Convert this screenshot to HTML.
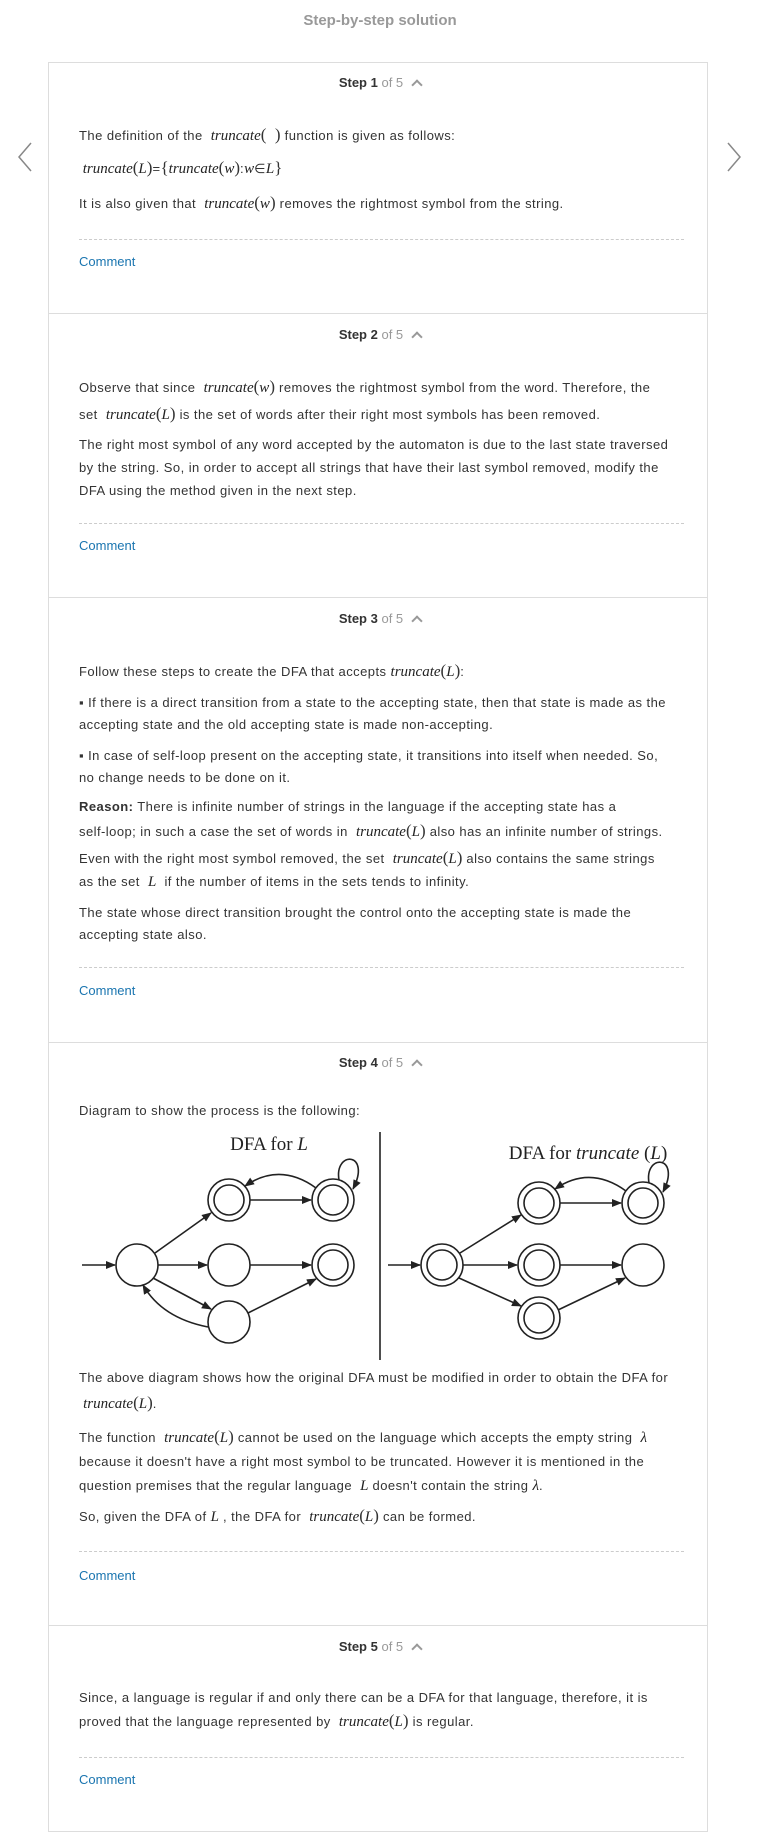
<!DOCTYPE html>
<html><head><meta charset="utf-8">
<style>
*{margin:0;padding:0;box-sizing:border-box}
body{width:760px;height:1841px;background:#fff;position:relative;font-family:"Liberation Sans",Arial,sans-serif;color:#333;font-size:13px;overflow:hidden}
.a{position:absolute;white-space:nowrap;line-height:18px;height:18px}
.t{left:79px;letter-spacing:0.45px}
.m{font-family:"Liberation Serif",serif;font-style:italic;font-size:15px;letter-spacing:0;color:#222}
.p{font-family:"Liberation Serif",serif;font-size:17px;font-style:normal;letter-spacing:0}
.h{left:0;width:760px;text-align:center;font-size:13px}
.h b{color:#333}
.h span{color:#999}
.h i{display:inline-block;width:8px;height:8px;border-left:2px solid #999;border-top:2px solid #999;transform:rotate(45deg);margin-left:10px;position:relative;top:2px}
.c{left:79px;color:#1a75b0}
.d{position:absolute;left:79px;width:605px;border-top:1px dashed #ccc}
.b{position:absolute;left:48px;width:660px;border-top:1px solid #ddd}
</style></head><body>
<div class="a" style="left:0;width:760px;text-align:center;top:12px;font-size:15px;color:#999;font-weight:bold">Step-by-step solution</div>
<div style="position:absolute;left:48px;top:62px;width:660px;height:1770px;border:1px solid #ddd"></div>
<svg style="position:absolute;left:0;top:0" width="760" height="200"><polyline points="31,143 19,157 31,171" fill="none" stroke="#888" stroke-width="1.5"/><polyline points="728,143 740,157 728,171" fill="none" stroke="#888" stroke-width="1.5"/></svg>

<div class="a h" style="top:74px"><b>Step 1</b> <span>of 5</span><i></i></div>
<div class="a t" style="top:126px">The definition of the &nbsp;<span class="m">truncate</span><span class="p">(&nbsp;&nbsp;)</span> function is given as follows:</div>
<div class="a t" style="top:159px"><span class="m">&nbsp;truncate</span><span class="p">(</span><span class="m">L</span><span class="p">)</span>=<span class="p">{</span><span class="m">truncate</span><span class="p">(</span><span class="m">w</span><span class="p">)</span>:<span class="m">w</span>∈<span class="m">L</span><span class="p">}</span></div>
<div class="a t" style="top:194px">It is also given that &nbsp;<span class="m">truncate</span><span class="p">(</span><span class="m">w</span><span class="p">)</span> removes the rightmost symbol from the string.</div>
<div class="d" style="top:239px"></div>
<div class="a c" style="top:253px">Comment</div>
<div class="b" style="top:313px"></div>

<div class="a h" style="top:326px"><b>Step 2</b> <span>of 5</span><i></i></div>
<div class="a t" style="top:378px">Observe that since &nbsp;<span class="m">truncate</span><span class="p">(</span><span class="m">w</span><span class="p">)</span> removes the rightmost symbol from the word. Therefore, the</div>
<div class="a t" style="top:405px">set &nbsp;<span class="m">truncate</span><span class="p">(</span><span class="m">L</span><span class="p">)</span> is the set of words after their right most symbols has been removed.</div>
<div class="a t" style="top:436px">The right most symbol of any word accepted by the automaton is due to the last state traversed</div>
<div class="a t" style="top:459px">by the string. So, in order to accept all strings that have their last symbol removed, modify the</div>
<div class="a t" style="top:482px">DFA using the method given in the next step.</div>
<div class="d" style="top:523px"></div>
<div class="a c" style="top:537px">Comment</div>
<div class="b" style="top:597px"></div>

<div class="a h" style="top:610px"><b>Step 3</b> <span>of 5</span><i></i></div>
<div class="a t" style="top:662px">Follow these steps to create the DFA that accepts <span class="m">truncate</span><span class="p">(</span><span class="m">L</span><span class="p">)</span>:</div>
<div class="a t" style="top:694px">▪ If there is a direct transition from a state to the accepting state, then that state is made as the</div>
<div class="a t" style="top:716px">accepting state and the old accepting state is made non-accepting.</div>
<div class="a t" style="top:747px">▪ In case of self-loop present on the accepting state, it transitions into itself when needed. So,</div>
<div class="a t" style="top:769px">no change needs to be done on it.</div>
<div class="a t" style="top:798px"><b>Reason:</b> There is infinite number of strings in the language if the accepting state has a</div>
<div class="a t" style="top:822px">self-loop; in such a case the set of words in &nbsp;<span class="m">truncate</span><span class="p">(</span><span class="m">L</span><span class="p">)</span> also has an infinite number of strings.</div>
<div class="a t" style="top:849px">Even with the right most symbol removed, the set &nbsp;<span class="m">truncate</span><span class="p">(</span><span class="m">L</span><span class="p">)</span> also contains the same strings</div>
<div class="a t" style="top:873px">as the set &nbsp;<span class="m">L</span>&nbsp; if the number of items in the sets tends to infinity.</div>
<div class="a t" style="top:904px">The state whose direct transition brought the control onto the accepting state is made the</div>
<div class="a t" style="top:926px">accepting state also.</div>
<div class="d" style="top:967px"></div>
<div class="a c" style="top:982px">Comment</div>
<div class="b" style="top:1042px"></div>

<div class="a h" style="top:1054px"><b>Step 4</b> <span>of 5</span><i></i></div>
<div class="a t" style="top:1102px">Diagram to show the process is the following:</div>
<svg style="position:absolute;left:0;top:0" width="760" height="1400" viewBox="0 0 760 1400">
<defs><marker id="ar" markerWidth="10" markerHeight="8" refX="9" refY="4" orient="auto" markerUnits="userSpaceOnUse"><path d="M0,0 L10,4 L0,8 Z" fill="#222"/></marker></defs>
<g fill="none" stroke="#222" stroke-width="1.6">
<line x1="380" y1="1132" x2="380" y2="1360"/>
<circle cx="137" cy="1265" r="21"/>
<circle cx="229" cy="1200" r="21"/><circle cx="229" cy="1200" r="15"/>
<circle cx="333" cy="1200" r="21"/><circle cx="333" cy="1200" r="15"/>
<circle cx="229" cy="1265" r="21"/>
<circle cx="333" cy="1265" r="21"/><circle cx="333" cy="1265" r="15"/>
<circle cx="229" cy="1322" r="21"/>
<line x1="82" y1="1265" x2="115" y2="1265" marker-end="url(#ar)"/>
<line x1="155" y1="1253" x2="211" y2="1213" marker-end="url(#ar)"/>
<line x1="158" y1="1265" x2="207" y2="1265" marker-end="url(#ar)"/>
<line x1="153" y1="1278" x2="211" y2="1309" marker-end="url(#ar)"/>
<line x1="250" y1="1200" x2="311" y2="1200" marker-end="url(#ar)"/>
<line x1="250" y1="1265" x2="311" y2="1265" marker-end="url(#ar)"/>
<line x1="248" y1="1313" x2="316" y2="1279" marker-end="url(#ar)"/>
<path d="M316,1188 Q280,1162 245,1186" marker-end="url(#ar)"/>
<path d="M208,1327 Q162,1318 143,1285" marker-end="url(#ar)"/>
<path d="M339,1180 C334,1150 372,1152 353,1189" marker-end="url(#ar)"/>
<circle cx="442" cy="1265" r="21"/><circle cx="442" cy="1265" r="15"/>
<circle cx="539" cy="1203" r="21"/><circle cx="539" cy="1203" r="15"/>
<circle cx="643" cy="1203" r="21"/><circle cx="643" cy="1203" r="15"/>
<circle cx="539" cy="1265" r="21"/><circle cx="539" cy="1265" r="15"/>
<circle cx="643" cy="1265" r="21"/>
<circle cx="539" cy="1318" r="21"/><circle cx="539" cy="1318" r="15"/>
<line x1="388" y1="1265" x2="420" y2="1265" marker-end="url(#ar)"/>
<line x1="460" y1="1253" x2="521" y2="1215" marker-end="url(#ar)"/>
<line x1="463" y1="1265" x2="517" y2="1265" marker-end="url(#ar)"/>
<line x1="459" y1="1278" x2="521" y2="1306" marker-end="url(#ar)"/>
<line x1="560" y1="1203" x2="621" y2="1203" marker-end="url(#ar)"/>
<line x1="560" y1="1265" x2="621" y2="1265" marker-end="url(#ar)"/>
<line x1="558" y1="1310" x2="625" y2="1278" marker-end="url(#ar)"/>
<path d="M626,1191 Q590,1165 555,1189" marker-end="url(#ar)"/>
<path d="M649,1183 C644,1153 682,1155 663,1192" marker-end="url(#ar)"/>
</g>
<text x="269" y="1150" font-family="Liberation Serif,serif" font-size="19" text-anchor="middle" fill="#222">DFA for <tspan font-style="italic">L</tspan></text>
<text x="588" y="1159" font-family="Liberation Serif,serif" font-size="19" text-anchor="middle" fill="#222">DFA for <tspan font-style="italic">truncate</tspan> (<tspan font-style="italic">L</tspan>)</text>
</svg>
<div class="a t" style="top:1369px">The above diagram shows how the original DFA must be modified in order to obtain the DFA for</div>
<div class="a t" style="top:1394px">&nbsp;<span class="m">truncate</span><span class="p">(</span><span class="m">L</span><span class="p">)</span>.</div>
<div class="a t" style="top:1428px">The function &nbsp;<span class="m">truncate</span><span class="p">(</span><span class="m">L</span><span class="p">)</span> cannot be used on the language which accepts the empty string &nbsp;<span class="m">λ</span></div>
<div class="a t" style="top:1453px">because it doesn't have a right most symbol to be truncated. However it is mentioned in the</div>
<div class="a t" style="top:1477px">question premises that the regular language &nbsp;<span class="m">L</span> doesn't contain the string <span class="m">λ</span>.</div>
<div class="a t" style="top:1507px">So, given the DFA of <span class="m">L</span> , the DFA for &nbsp;<span class="m">truncate</span><span class="p">(</span><span class="m">L</span><span class="p">)</span> can be formed.</div>
<div class="d" style="top:1551px"></div>
<div class="a c" style="top:1567px">Comment</div>
<div class="b" style="top:1625px"></div>

<div class="a h" style="top:1638px"><b>Step 5</b> <span>of 5</span><i></i></div>
<div class="a t" style="top:1689px">Since, a language is regular if and only there can be a DFA for that language, therefore, it is</div>
<div class="a t" style="top:1712px">proved that the language represented by &nbsp;<span class="m">truncate</span><span class="p">(</span><span class="m">L</span><span class="p">)</span> is regular.</div>
<div class="d" style="top:1757px"></div>
<div class="a c" style="top:1771px">Comment</div>
</body></html>
